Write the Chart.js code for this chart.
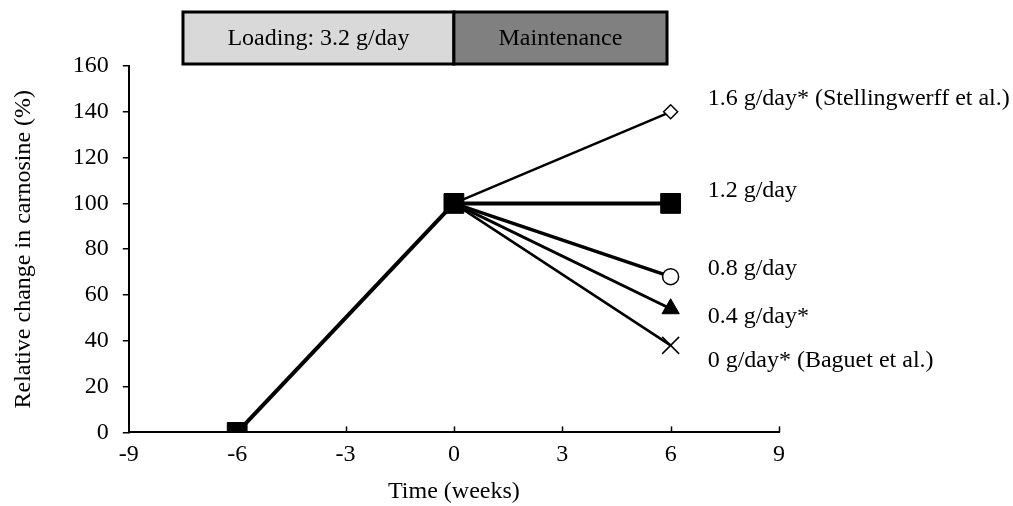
<!DOCTYPE html>
<html>
<head>
<meta charset="utf-8">
<script src="https://cdn.jsdelivr.net/npm/chart.js@4"></script>
<style>
  html, body { margin: 0; padding: 0; background: #fff; }
  #wrap { width: 1013px; height: 506px; }
</style>
</head>
<body>
<div id="wrap"><canvas id="chart"></canvas></div>
<script>
// loading phase (-6 -> 0 weeks)
var loadWeeks = [-6, 0];
var loadValues = [0, 100];

// maintenance phase, end values at week 6
var maintWeeks = [0, 6];
var doseLabels = ['1.6 g/day* (Stellingwerff et al.)', '1.2 g/day', '0.8 g/day', '0.4 g/day*', '0 g/day* (Baguet et al.)'];
var doseEnd = [140, 100, 68, 54, 38];

var xTicks = [-9, -6, -3, 0, 3, 6, 9];
var phaseNames = ['Loading: 3.2 g/day', 'Maintenance'];

var serif = '"Liberation Serif", "Times New Roman", serif';
var fs = 24;

// marker looks per dose
var marks = [
  { style: 'rectRot', r: 7, fill: '#fff', lw: 2.5 },
  { style: 'rect', r: 14, fill: '#000', lw: 4 },
  { style: 'circle', r: 8, fill: '#fff', lw: 3.5 },
  { style: 'triangle', r: 10, fill: '#000', lw: 3 },
  { style: 'crossRot', r: 12, fill: '#000', lw: 2.5 }
];
var labelShift = [-13, -13, -8, 8, 15];

var datasets = [{
  label: 'loading',
  data: loadWeeks.map(function (w, i) { return { x: w, y: loadValues[i] }; }),
  borderColor: '#000',
  backgroundColor: '#000',
  borderWidth: 4,
  pointStyle: 'rect',
  pointRadius: 14,
  pointBorderWidth: 1
}];

doseEnd.forEach(function (v, i) {
  datasets.push({
    label: doseLabels[i],
    data: [{ x: maintWeeks[0], y: 100 }, { x: maintWeeks[1], y: v }],
    borderColor: '#000',
    backgroundColor: marks[i].fill,
    pointBorderColor: '#000',
    borderWidth: marks[i].lw,
    pointStyle: marks[i].style,
    pointRadius: [0, marks[i].r],
    pointBorderWidth: marks[i].style === 'rect' || marks[i].style === 'triangle' ? 1 : 1.5
  });
});

var extras = {
  id: 'extras',
  afterDraw: function (chart) {
    var ctx = chart.ctx;
    var xs = chart.scales.x, ys = chart.scales.y;
    var area = chart.chartArea;

    // inward x ticks
    ctx.save();
    ctx.strokeStyle = '#000';
    ctx.lineWidth = 1.5;
    xTicks.forEach(function (t) {
      if (t === -9) return;
      var px = Math.round(xs.getPixelForValue(t)) + 0.5;
      ctx.beginPath();
      ctx.moveTo(px, area.bottom);
      ctx.lineTo(px, area.bottom - 6);
      ctx.stroke();
    });

    // phase boxes
    var bx = [xs.getPixelForValue(-7.5), xs.getPixelForValue(0), xs.getPixelForValue(5.9)];
    var fills = ['#d9d9d9', '#808080'];
    var top = 12, h = 52;
    ctx.font = fs + 'px ' + serif;
    ctx.textAlign = 'center';
    ctx.textBaseline = 'middle';
    for (var i = 0; i < 2; i++) {
      ctx.fillStyle = fills[i];
      ctx.fillRect(bx[i], top, bx[i + 1] - bx[i], h);
      ctx.lineWidth = 3;
      ctx.strokeStyle = '#000';
      ctx.strokeRect(bx[i], top, bx[i + 1] - bx[i], h);
      ctx.fillStyle = '#000';
      ctx.fillText(phaseNames[i], (bx[i] + bx[i + 1]) / 2, top + h / 2 + 1);
    }

    // dose labels
    ctx.textAlign = 'left';
    doseLabels.forEach(function (s, i) {
      var px = xs.getPixelForValue(6) + 37;
      var py = ys.getPixelForValue(doseEnd[i]) + labelShift[i];
      ctx.fillText(s, px, py);
    });
    ctx.restore();
  }
};

new Chart(document.getElementById('chart').getContext('2d'), {
  type: 'line',
  data: { datasets: datasets },
  plugins: [extras],
  options: {
    responsive: true,
    maintainAspectRatio: false,
    animation: false,
    layout: { padding: { top: 66, right: 234, left: 5, bottom: 0 } },
    plugins: { legend: { display: false }, tooltip: { enabled: false } },
    scales: {
      x: {
        type: 'linear',
        min: -9, max: 9,
        afterBuildTicks: function (s) { s.ticks = xTicks.map(function (v) { return { value: v }; }); },
        grid: { display: false, drawTicks: false },
        border: { color: '#000', width: 2 },
        ticks: { color: '#000', font: { family: serif, size: fs }, padding: 8, maxRotation: 0 },
        title: { display: true, text: 'Time (weeks)', color: '#000', font: { family: serif, size: fs }, padding: { top: 0, bottom: 0 } }
      },
      y: {
        min: 0, max: 160,
        ticks: { stepSize: 20, color: '#000', font: { family: serif, size: fs }, padding: 14 },
        grid: { drawOnChartArea: false, drawTicks: true, tickLength: 6, color: '#000', lineWidth: 1.5 },
        border: { color: '#000', width: 2 },
        title: { display: true, text: 'Relative change in carnosine (%)', color: '#000', font: { family: serif, size: fs }, padding: { top: 4, bottom: 21 } }
      }
    }
  }
});
</script>
</body>
</html>
